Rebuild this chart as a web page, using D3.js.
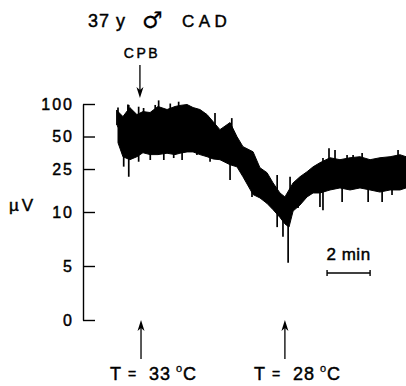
<!DOCTYPE html>
<html>
<head>
<meta charset="utf-8">
<script src="https://cdn.jsdelivr.net/npm/d3@7"></script>
<style>
  html, body { margin: 0; padding: 0; background: #fff; }
  svg { display: block; }
  text { font-family: "Liberation Sans", Arial, sans-serif; fill: #000; stroke: #000; stroke-width: 0.45px; }
</style>
</head>
<body>
<div id="chart"></div>
<script>
// CFM amplitude trace (µV), time in minutes from start of CPB
const yTicks = [0, 5, 10, 25, 50, 100];

const minutes = [-1.02, -0.79, -0.47, -0.14, 0.14, 0.47, 0.84, 1.26, 1.63, 1.86,
  2.19, 2.47, 2.79, 3.12, 3.40, 3.72, 4.19, 4.51, 4.79, 5.26,
  5.58, 5.91, 6.19, 6.51, 6.74, 6.93, 7.12, 7.44, 7.77, 8.05,
  8.37, 8.84, 9.30, 9.77, 10.23, 10.70, 11.16, 11.63, 12.09, 12.37];
const upper = [85, 76.5, 92.7, 79.8, 85, 83.4, 94.8, 88.9, 94.8, 97,
  98.9, 92.7, 88.9, 79.8, 68.7, 57.9, 67.3, 49.9, 40.3, 36.1,
  25.7, 23.1, 18.6, 15.0, 13.8, 16.0, 18.6, 21.2, 23.6, 26.2,
  28.6, 31.8, 30.5, 31.8, 32.5, 30.5, 31.8, 32.5, 33.9, 32.5];
const lower = [43.8, 32.5, 30.5, 32.5, 35.4, 34, 34, 35, 34, 35,
  36, 36, 34, 32.5, 31, 30.5, 27.4, 26.2, 21.2, 14.5,
  13.5, 12.0, 10.5, 9.5, 8.9, 8.6, 10.2, 11.6, 13.8, 15.0,
  15.0, 16.0, 16.7, 16.0, 16.7, 16.0, 15.3, 16.0, 16.0, 16.7];

// isolated spikes [minute, µV]
const spikesUp = [[-1.07, 88], [-1.02, 92.7], [-0.56, 98.9], [-0.52, 98], [-0.06, 94.4],
  [0.17, 91.8], [0.71, 98], [0.87, 108], [1.41, 101], [1.80, 105],
  [3.49, 82.5], [4.27, 74], [6.38, 22], [6.98, 21.2], [8.51, 31.6], [8.79, 39],
  [9.07, 37.6], [9.63, 33.7], [9.91, 33.7], [10.33, 35.2], [12.0, 37.6]];
const spikesDown = [[-0.755, 26.3], [-0.52, 21.2], [-0.06, 29.2], [0.48, 30.3], [1.11, 30.3],
  [1.57, 31.6], [1.96, 30.3], [2.65, 33.7], [3.26, 29.2], [4.19, 19.8], [5.21, 13.8],
  [6.38, 8.6], [6.65, 7.7], [6.89, 5.3], [7.35, 10.9], [8.37, 11.1], [8.51, 10.4],
  [9.40, 12.4], [10.61, 12.4], [11.26, 12.4], [11.72, 14.4]];

const cpbMinute = 0;
const tempMarks = [{ minute: 0.05, label: "33" }, { minute: 6.74, label: "28" }];
const scaleBar = [8.7, 10.7];

const width = 406, height = 386;

const svg = d3.select("#chart").append("svg")
  .attr("width", width)
  .attr("height", height);

// linear 0-10 µV, log 10-100 µV
const cfm = v => v <= 10 ? v / 10 : 1 + Math.log10(v / 10);
const yLin = d3.scaleLinear().domain([0, 2]).range([320, 104]);
const y = v => yLin(cfm(v));
const x = d3.scaleLinear().domain([-1.02, 12.37]).range([118, 406]);

// y axis
const axis = svg.append("g")
  .attr("transform", "translate(83,0)")
  .call(d3.axisLeft(yLin)
    .tickValues(yTicks.map(cfm))
    .tickFormat((d, i) => yTicks[i])
    .tickSizeInner(-12)
    .tickSizeOuter(0)
    .tickPadding(9));
axis.selectAll("path, line").attr("stroke", "#000").attr("stroke-width", 1.4);
axis.selectAll("text")
  .style("font-family", '"Liberation Sans", Arial, sans-serif')
  .attr("font-size", 16)
  .attr("letter-spacing", 2)
  .attr("fill", "#000");

svg.append("text")
  .attr("x", 9).attr("y", 211)
  .attr("font-size", 17)
  .attr("letter-spacing", 3)
  .text("\u00b5V");

// trace band
const band = minutes.map((m, i) => ({ m, hi: upper[i], lo: lower[i] }));
svg.append("path")
  .datum(band)
  .attr("fill", "#000")
  .attr("stroke", "#000")
  .attr("stroke-width", 1)
  .attr("d", d3.area()
    .x(d => x(d.m))
    .y0(d => y(d.lo))
    .y1(d => y(d.hi)));

const mid = d3.scaleLinear().domain(minutes)
  .range(minutes.map((m, i) => Math.sqrt(upper[i] * lower[i])));

svg.append("g").selectAll("line")
  .data(spikesUp.concat(spikesDown))
  .join("line")
  .attr("x1", d => x(d[0])).attr("x2", d => x(d[0]))
  .attr("y1", d => y(mid(d[0]))).attr("y2", d => y(d[1]))
  .attr("stroke", "#000")
  .attr("stroke-width", 1.7);

// arrows
function arrow(xp, yTail, yHead) {
  const dir = yHead > yTail ? 1 : -1;
  svg.append("line")
    .attr("x1", xp).attr("x2", xp)
    .attr("y1", yTail).attr("y2", yHead - dir * 4)
    .attr("stroke", "#000").attr("stroke-width", 1.3);
  svg.append("path")
    .attr("d", `M${xp - 3.5},${yHead - dir * 11} L${xp},${yHead} L${xp + 3.5},${yHead - dir * 11} L${xp},${yHead - dir * 8}Z`)
    .attr("fill", "#000");
}

// title
svg.append("text").attr("x", 88).attr("y", 27).attr("font-size", 18)
  .attr("letter-spacing", 1).text("37 y");
svg.append("text")
  .attr("x", 142).attr("y", 28)
  .style("font-family", '"DejaVu Sans", sans-serif')
  .style("stroke-width", "0.2px")
  .attr("font-size", 23)
  .text("\u2642");
svg.append("text")
  .attr("x", 182).attr("y", 27)
  .attr("font-size", 17)
  .attr("letter-spacing", 4.5)
  .text("CAD");

// CPB marker
svg.append("text")
  .attr("x", x(cpbMinute) + 2).attr("y", 58)
  .attr("text-anchor", "middle")
  .attr("font-size", 14)
  .attr("letter-spacing", 2.5)
  .text("CPB");
arrow(x(cpbMinute), 65, 98);

// temperature markers
tempMarks.forEach(t => {
  const xp = x(t.minute);
  arrow(xp, 359, 320);
  const g = svg.append("g").attr("font-size", 18);
  g.append("text").attr("x", xp - 31).attr("y", 380).text("T");
  g.append("text").attr("x", xp - 13).attr("y", 379).attr("font-size", 14).text("=");
  g.append("text").attr("x", xp + 8).attr("y", 380).attr("letter-spacing", 1).text(t.label);
  g.append("text").attr("x", xp + 35).attr("y", 372).attr("font-size", 11)
    .style("stroke-width", "0.3px").text("o");
  g.append("text").attr("x", xp + 42).attr("y", 380).text("C");
});

// 2 min scale bar
const sb = svg.append("g");
sb.append("line")
  .attr("x1", x(scaleBar[0])).attr("x2", x(scaleBar[1]))
  .attr("y1", 273).attr("y2", 273)
  .attr("stroke", "#000").attr("stroke-width", 1.4);
scaleBar.forEach(m => {
  sb.append("line")
    .attr("x1", x(m)).attr("x2", x(m))
    .attr("y1", 270).attr("y2", 276)
    .attr("stroke", "#000").attr("stroke-width", 1.4);
});
sb.append("text")
  .attr("x", (x(scaleBar[0]) + x(scaleBar[1])) / 2).attr("y", 260)
  .attr("text-anchor", "middle")
  .attr("font-size", 17)
  .attr("letter-spacing", 0.5)
  .text("2 min");
</script>
</body>
</html>
